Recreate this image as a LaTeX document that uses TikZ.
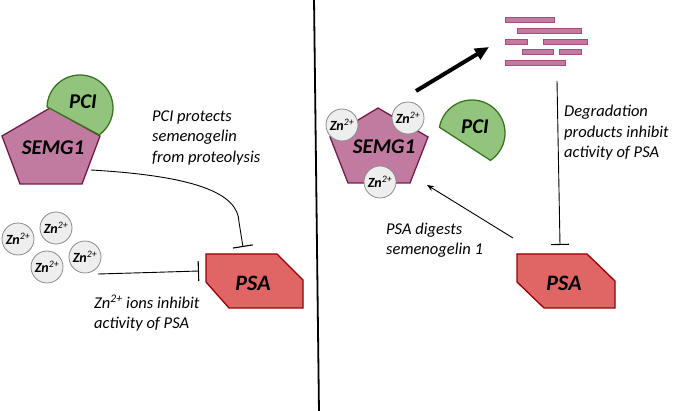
\documentclass[tikz,border=0pt]{standalone}
\usepackage{fontspec}
\setmainfont{Carlito}
\usetikzlibrary{arrows.meta}
\definecolor{semgfill}{HTML}{C27BA0}
\definecolor{semgdraw}{HTML}{741B47}
\definecolor{pcifill}{HTML}{93C47D}
\definecolor{pcidraw}{HTML}{38761D}
\definecolor{psafill}{HTML}{E06666}
\definecolor{psadraw}{HTML}{990000}
\definecolor{znfill}{HTML}{EEEEEE}
\definecolor{zndraw}{HTML}{8C8C8C}
\definecolor{barfill}{HTML}{C27BA0}
\definecolor{bardraw}{HTML}{A64D79}
\begin{document}
\begin{tikzpicture}[x=1pt,y=-1pt,
  semgshape/.style={fill=semgfill, draw=semgdraw, line width=1.3pt, line join=miter},
  pcishape/.style={fill=pcifill, draw=pcidraw, line width=1.3pt, line join=miter},
  psashape/.style={fill=psafill, draw=psadraw, line width=1.3pt, line join=miter},
  barshape/.style={fill=barfill, draw=bardraw, line width=0.8pt},
  protlabel/.style={font=\fontsize{21}{24}\selectfont\bfseries\itshape, inner sep=0pt},
  zn/.style={circle, minimum size=32pt, inner sep=0pt, fill=znfill, draw=zndraw, line width=0.8pt,
    font=\fontsize{14}{15}\selectfont\itshape},
  note/.style={font=\fontsize{16.5}{20.5}\selectfont\itshape, align=left, anchor=west, inner sep=0pt},
  inhib/.style={line width=0.9pt, -{Bar[width=20pt, line width=1.1pt]}},
  thin arrow/.style={line width=0.9pt, -{Stealth[length=7pt, width=5.5pt]}},
]
\useasboundingbox (0,0) rectangle (674,411);

% divider
\coordinate (divT) at (314,-2);
\coordinate (divB) at (319,413);
\draw[line width=1.8pt] (divT) -- (divB);

% ---------- left panel ----------
\path[semgshape, shift={(50,108)}] (0,0) -- (50,28) -- (32,76) -- (-30,76) -- (-48,28) -- cycle;
\node[protlabel] (semgL) at (53,148) {SEMG1};
\path[pcishape] (80,108) ++(182:33) arc[start angle=182, end angle=414.5, radius=33] -- cycle;
\node[protlabel] (pciL) at (83,102) {PCI};

\path[psashape, shift={(206,254)}] (0,0) -- (71,0) -- (97,26) -- (97,54) -- (23,54) -- (0,28) -- cycle;
\node[protlabel, font=\fontsize{22}{24}\selectfont\bfseries\itshape] (psaL) at (253,283) {PSA};

\node[zn] (zn1) at (18,239) {\textbf{Zn}\textsuperscript{2+}};
\node[zn] (zn2) at (56,228) {\textbf{Zn}\textsuperscript{2+}};
\node[zn] (zn3) at (47,267) {\textbf{Zn}\textsuperscript{2+}};
\node[zn] (zn4) at (85,257) {\textbf{Zn}\textsuperscript{2+}};

\coordinate (semgLout) at (91,170);
\coordinate (psaLtop) at (243,247);
\draw[inhib] (semgLout) .. controls (195,176) and (238,193) .. (239,222) -- (psaLtop);

\coordinate (znout) at (98,274);
\coordinate (psaLleft) at (199,271);
\draw[inhib] (znout) -- (150,272.5) -- (psaLleft);

\node[note] (protect) at (152,137.5) {PCI protects\\semenogelin\\from proteolysis};
\node[note] (znnote) at (94,313) {Zn\textsuperscript{2+} ions inhibit\\activity of PSA};

% ---------- right panel ----------
\path[semgshape, shift={(378,108)}] (0,0) -- (50,29) -- (32,75) -- (-30,75) -- (-48,29) -- cycle;
\node[protlabel] (semgR) at (384,147) {SEMG1};
\node[zn] (zn5) at (342,125) {\textbf{Zn}\textsuperscript{2+}};
\node[zn] (zn6) at (408,118) {\textbf{Zn}\textsuperscript{2+}};
\node[zn] (zn7) at (380,182) {\textbf{Zn}\textsuperscript{2+}};

\path[pcishape] (472,133) ++(190:33) arc[start angle=190, end angle=416, radius=33] -- cycle;
\node[protlabel] (pciR) at (475,127) {PCI};

\path[psashape, shift={(517,254)}] (0,0) -- (70,0) -- (98,27) -- (98,54) -- (27,54) -- (0,28) -- cycle;
\node[protlabel, font=\fontsize{22}{24}\selectfont\bfseries\itshape] (psaR) at (564,283) {PSA};

% degradation products
\path[barshape] (505,17) rectangle (554,22);
\path[barshape] (517,28) rectangle (581,33);
\path[barshape] (505,39) rectangle (527,44);
\path[barshape] (543,39) rectangle (587,44);
\path[barshape] (522,49) rectangle (553,54);
\path[barshape] (559,49) rectangle (581,54);
\path[barshape] (505,60) rectangle (565,65);

\coordinate (thickS) at (416,91);
\coordinate (thickE) at (489,47);
\draw[line width=4pt, -{Triangle[length=14pt, width=12pt]}] (thickS) -- (thickE);

\coordinate (degout) at (557,81);
\coordinate (psaRtop) at (560,245);
\draw[inhib, -{Bar[width=18pt, line width=1.1pt]}] (degout) -- (psaRtop);

\coordinate (psaRout) at (513,238);
\coordinate (semgRin) at (427,185);
\draw[thin arrow] (psaRout) -- (semgRin);

\node[note] (degnote) at (564,133) {Degradation\\products inhibit\\activity of PSA};
\node[note] (dignote) at (386,240) {PSA digests\\semenogelin 1};
\end{tikzpicture}
\end{document}
